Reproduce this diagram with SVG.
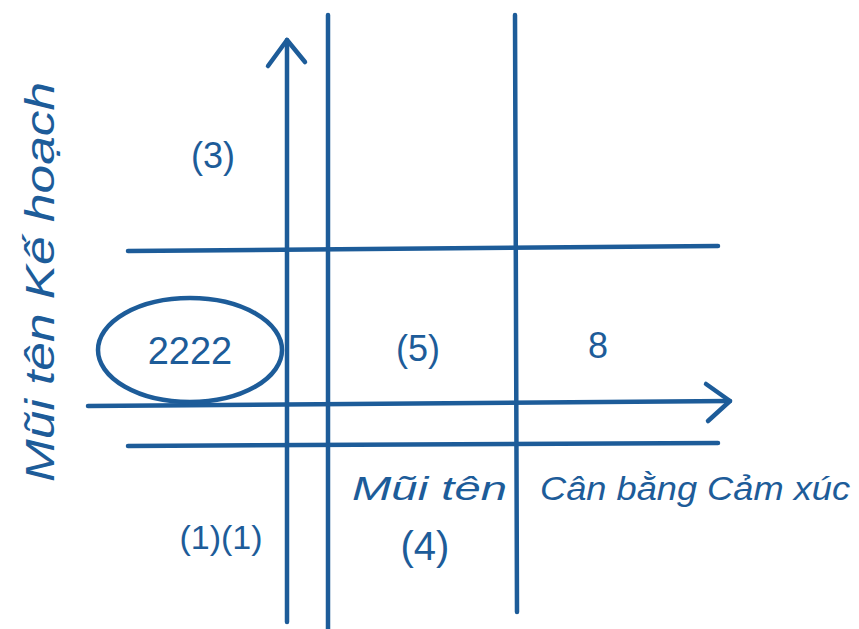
<svg xmlns="http://www.w3.org/2000/svg" width="859" height="629" viewBox="0 0 859 629">
<style>
.ln{stroke:#1d5c99;stroke-width:4.5;fill:none;stroke-linecap:round;stroke-linejoin:round}
.t{fill:#1d5c99;font-family:"Liberation Sans","DejaVu Sans",sans-serif}
.h{font-style:italic}
</style>
<rect width="859" height="629" fill="#ffffff"/>
<g id="connectors">
<path class="ln" d="M287 622 L287 40"/>
<path class="ln" d="M268 66 L287 40 L305 62"/>
<path class="ln" d="M328 15 L328 629"/>
<path class="ln" d="M515 15 L517 612"/>
<path class="ln" d="M128 251 L718 246"/>
<path class="ln" d="M128 446 L718 443"/>
<path class="ln" d="M88 406 L730 401"/>
<path class="ln" d="M706 384 L730 401 L708 421"/>
</g>
<g id="node-2222">
<ellipse class="ln" cx="190" cy="350" rx="92" ry="52"/>
<text class="t" x="190" y="364" font-size="38" text-anchor="middle">2222</text>
</g>
<g id="node-3"><text class="t" x="213" y="168" font-size="36" text-anchor="middle">(3)</text></g>
<g id="node-5"><text class="t" x="418" y="361" font-size="36" text-anchor="middle">(5)</text></g>
<g id="node-8"><text class="t" x="598" y="358" font-size="36" text-anchor="middle">8</text></g>
<g id="node-11"><text class="t" x="221" y="549" font-size="34" text-anchor="middle">(1)(1)</text></g>
<g id="node-4"><text class="t" x="425" y="560" font-size="40" text-anchor="middle">(4)</text></g>
<g id="label-bottom">
<text class="t h" x="352" y="500" font-size="34" textLength="155" lengthAdjust="spacingAndGlyphs">Mũi tên</text>
<text class="t h" x="540" y="500" font-size="34" textLength="310" lengthAdjust="spacingAndGlyphs">Cân bằng Cảm xúc</text>
</g>
<g id="label-left">
<text class="t h" transform="translate(54 482) rotate(-90)" font-size="40" textLength="400" lengthAdjust="spacingAndGlyphs">Mũi tên Kế hoạch</text>
</g>
</svg>
